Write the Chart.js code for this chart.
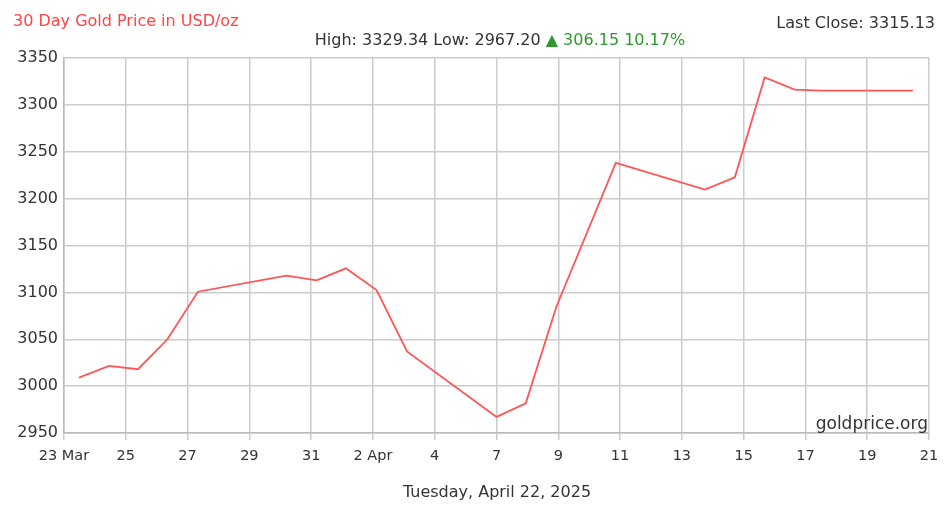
<!DOCTYPE html>
<html>
<head>
<meta charset="utf-8">
<script src="https://cdn.jsdelivr.net/npm/chart.js@4.4.1/dist/chart.umd.min.js"></script>
<style>
    html, body { margin: 0; padding: 0; background: #fff; }
    #goldChart { display: block; }
</style>
</head>
<body>
<canvas id="goldChart" width="951" height="512"></canvas>
<script>
// days since 23 Mar 2025 (x) and the closing price (y)
const dayOffsets = [0.50, 1.51, 2.48, 3.46, 4.49, 7.46, 8.47, 9.45, 10.48, 11.50,
    14.50, 15.48, 16.51, 18.50, 21.49, 22.49, 23.49, 24.50, 25.39, 28.46];
const prices = [3008.98, 3021.5, 3018.0, 3049.7, 3100.7, 3117.8, 3112.8, 3125.6, 3102.5, 3037.0,
    2967.20, 2981.6, 3085.0, 3238.2, 3209.6, 3222.8, 3329.34, 3316.2, 3315.2, 3315.13];
const xTickLabels = ['23 Mar', '25', '27', '29', '31', '2 Apr', '4', '7', '9', '11', '13', '15', '17', '19', '21'];
const yTicks = [2950, 3000, 3050, 3100, 3150, 3200, 3250, 3300, 3350];
const spanDays = 29;

const FONT = "'DejaVu Sans', Verdana, sans-serif";

// texts around the plot area
const labelsPlugin = {
    id: 'goldLabels',
    afterDraw(chart) {
        const ctx = chart.ctx;
        const area = chart.chartArea;
        ctx.save();
        ctx.font = '16px ' + FONT;
        ctx.textBaseline = 'alphabetic';

        ctx.fillStyle = '#ff4444';
        ctx.textAlign = 'left';
        ctx.fillText('30 Day Gold Price in USD/oz', 13, 26);

        ctx.fillStyle = '#333';
        ctx.textAlign = 'right';
        ctx.fillText('Last Close: 3315.13', 935, 28);

        const partA = 'High: 3329.34 Low: 2967.20 ';
        const partB = '\u25B2 306.15 10.17%';
        const wA = ctx.measureText(partA).width;
        const wB = ctx.measureText(partB).width;
        const startX = 500 - (wA + wB) / 2;
        ctx.textAlign = 'left';
        ctx.fillStyle = '#333';
        ctx.fillText(partA, startX, 45);
        ctx.fillStyle = '#2e9a2e';
        ctx.fillText(partB, startX + wA, 45);

        ctx.fillStyle = '#333';
        ctx.textAlign = 'center';
        ctx.fillText('Tuesday, April 22, 2025', 497, 497);

        ctx.font = '17px ' + FONT;
        ctx.textAlign = 'right';
        ctx.fillText('goldprice.org', area.right - 1, area.bottom - 4);
        ctx.restore();
    }
};

new Chart(document.getElementById('goldChart'), {
    type: 'line',
    data: {
        datasets: [{
            data: dayOffsets.map((d, i) => ({ x: d, y: prices[i] })),
            borderColor: '#ff5555',
            borderWidth: 1.8,
            pointRadius: 0,
            tension: 0,
            fill: false
        }]
    },
    options: {
        responsive: false,
        animation: false,
        devicePixelRatio: 1,
        layout: { padding: { top: 58, right: 22, left: 0, bottom: 0 } },
        plugins: {
            legend: { display: false },
            tooltip: { enabled: false }
        },
        scales: {
            x: {
                type: 'linear',
                min: 0,
                max: spanDays,
                afterBuildTicks: scale => {
                    scale.ticks = xTickLabels.map((_, i) => ({ value: i * spanDays / (xTickLabels.length - 1) }));
                },
                afterFit: scale => { scale.height = 79; },
                ticks: {
                    autoSkip: false,
                    maxRotation: 0,
                    padding: 8,
                    color: '#333',
                    font: { family: FONT, size: 14.5 },
                    callback: (value, index) => xTickLabels[index]
                },
                grid: { color: '#cccccc', lineWidth: 1.5, drawTicks: true, tickLength: 7 },
                border: { color: '#bbbbbb', width: 1.5 }
            },
            y: {
                min: yTicks[0],
                max: yTicks[yTicks.length - 1],
                afterBuildTicks: scale => {
                    scale.ticks = yTicks.map(v => ({ value: v }));
                },
                afterFit: scale => { scale.width = 64; },
                ticks: {
                    padding: 6,
                    color: '#333',
                    font: { family: FONT, size: 16 },
                    callback: value => String(value)
                },
                grid: { color: '#cccccc', lineWidth: 1.5, drawTicks: false },
                border: { color: '#bbbbbb', width: 1.5 }
            }
        }
    },
    plugins: [labelsPlugin]
});
</script>
</body>
</html>
